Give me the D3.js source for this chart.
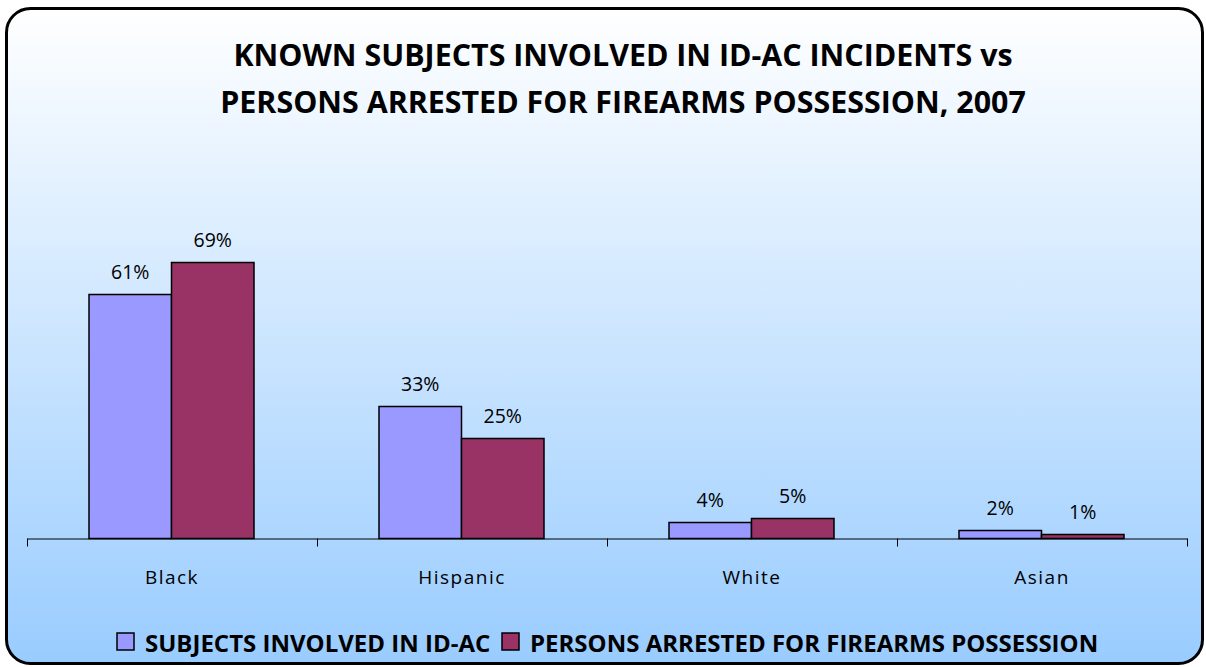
<!DOCTYPE html>
<html><head><meta charset="utf-8">
<script src="https://cdn.jsdelivr.net/npm/d3@7"></script>
<style>body{margin:0;background:#fff;}svg{display:block;}</style>
</head><body>
<svg id="chart" width="1206" height="667"></svg>
<script>
const categories = ["Black", "Hispanic", "White", "Asian"];
const seriesNames = ["SUBJECTS INVOLVED IN ID-AC", "PERSONS ARRESTED FOR FIREARMS POSSESSION"];
const subjectsValues = [61, 33, 4, 2];
const arrestedValues = [69, 25, 5, 1];
const colors = ["#9999FF", "#993366"];
const titleLines = ["KNOWN SUBJECTS INVOLVED IN ID-AC INCIDENTS vs", "PERSONS ARRESTED FOR FIREARMS POSSESSION, 2007"];

const svg = d3.select("#chart");
const font = "'Open Sans', 'Noto Sans', sans-serif";

const defs = svg.append("defs");
const grad = defs.append("linearGradient").attr("id", "bg").attr("x1", 0).attr("y1", 0).attr("x2", 0).attr("y2", 1);
grad.append("stop").attr("offset", "0%").attr("stop-color", "#FFFFFF");
grad.append("stop").attr("offset", "100%").attr("stop-color", "#99CCFF");

svg.append("rect").attr("x", 6.5).attr("y", 8.5).attr("width", 1196).attr("height", 655)
  .attr("rx", 24).attr("ry", 24).attr("fill", "url(#bg)").attr("stroke", "#000").attr("stroke-width", 3);

// title
svg.selectAll("text.title").data(titleLines).join("text").attr("class", "title")
  .attr("x", 623).attr("y", (d, i) => 66 + i * 47)
  .attr("text-anchor", "middle").attr("font-family", font).attr("font-weight", "bold")
  .attr("font-size", 30.4).attr("fill", "#000").text(d => d);

const x0 = d3.scaleBand().domain(categories).range([27, 1187]).paddingInner(0).paddingOuter(0);
const x1 = d3.scaleBand().domain([0, 1]).range([62, 227]);
const y = d3.scaleLinear().domain([0, 100]).range([538.5, 138.5]);

const data = categories.map((c, i) => ({ cat: c, vals: [subjectsValues[i], arrestedValues[i]] }));

const g = svg.append("g");
const groups = g.selectAll("g.cat").data(data).join("g").attr("class", "cat")
  .attr("transform", d => `translate(${x0(d.cat)},0)`);

groups.selectAll("rect").data(d => d.vals.map((v, j) => ({ v, j }))).join("rect")
  .attr("x", d => x1(d.j)).attr("width", x1.bandwidth())
  .attr("y", d => y(d.v)).attr("height", d => y(0) - y(d.v))
  .attr("fill", d => colors[d.j]).attr("stroke", "#000").attr("stroke-width", 1.5);

groups.selectAll("text.lbl").data(d => d.vals.map((v, j) => ({ v, j }))).join("text").attr("class", "lbl")
  .attr("x", d => x1(d.j) + x1.bandwidth() / 2).attr("y", d => y(d.v) - 16)
  .attr("text-anchor", "middle").attr("font-family", font).attr("font-size", 19.5).attr("fill", "#000")
  .text(d => d.v + "%");

// axis
const axis = d3.axisBottom(x0).tickSize(0).tickFormat("");
const ax = svg.append("g").attr("transform", `translate(0,${y(0)})`).call(axis);
ax.select(".domain").attr("stroke", "#000").attr("stroke-width", 1);
const tickPos = categories.map(c => x0(c)).concat([x0.range()[1]]);
ax.selectAll("line.sep").data(tickPos).join("line").attr("class", "sep")
  .attr("x1", d => d + 0.5).attr("x2", d => d + 0.5).attr("y1", 0).attr("y2", 8)
  .attr("stroke", "#000").attr("stroke-width", 1);
ax.selectAll("text.cat").data(categories).join("text").attr("class", "cat")
  .attr("x", d => x0(d) + x0.bandwidth() / 2).attr("y", 45.5)
  .attr("text-anchor", "middle").attr("font-family", font).attr("font-size", 19)
  .attr("letter-spacing", 1.5).attr("fill", "#000").text(d => d);

// legend
const legend = svg.append("g");
const legX = [117, 502];
seriesNames.forEach((s, i) => {
  legend.append("rect").attr("x", legX[i]).attr("y", 633).attr("width", 17).attr("height", 17)
    .attr("fill", colors[i]).attr("stroke", "#000").attr("stroke-width", 1.5);
  legend.append("text").attr("x", legX[i] + 28).attr("y", 652)
    .attr("font-family", font).attr("font-weight", "bold").attr("font-size", 24).attr("fill", "#000").text(s);
});
</script>
</body></html>
